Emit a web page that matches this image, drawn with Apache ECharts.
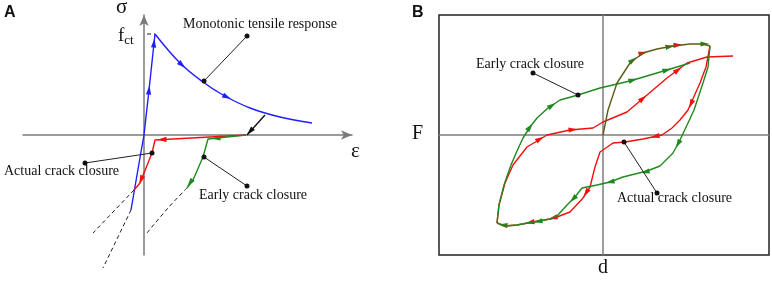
<!DOCTYPE html>
<html>
<head>
<meta charset="utf-8">
<script src="https://cdn.jsdelivr.net/npm/echarts@6/dist/echarts.min.js"></script>
<style>
  html, body { margin: 0; padding: 0; background: #fff; }
  #chart { width: 772px; height: 281px; }
</style>
</head>
<body>
<div id="chart"></div>
<script>
// Panel A: stress-strain schematic (units: strain / stress, origin at axes crossing)
const blueRise = [[-13,-75],[-7,-40],[-3,-17],[0,0],[5,45],[11,101]];
const blueSoften = [[11,101],[36,72],[59,53],[79,40],[106,27],[136,18],[168,12]];
const blueDashed = [[-13,-75],[-41,-133]];
const redCurveA = [[102,0],[11,-5],[8,-18],[-4,-48],[-10,-55]];
const redDashedA = [[-10,-55],[-51,-98]];
const greenCurveA = [[102,0],[64,-4],[59,-22],[49,-45],[43,-53]];
const greenDashedA = [[43,-53],[24,-73],[3,-98]];
const fctLevel = [[3,101],[11,101]];
const pointerA = [[121,20],[103,0]];
// arrows: [x, y, dirX, dirY]
const blueArrows = [[5,45,1,9],[10,92,1,10],[38,70,21,-19],[83,38,27,-13]];
const redArrowsA = [[18,-4.6,-91,-5],[-3,-45,-12,-30]];
const greenArrowsA = [[72,-3.3,-38,-4],[46,-48,-6,-8]];
const blackArrowsA = [[106,3.5,-18,-20]];
const notesA = [
  [[103,99],[60,54]],
  [[-59,-28],[8,-18]],
  [[60,-22],[103,-51]]
];

// Panel B: force-displacement hysteresis
const sharedArc = [[0,0],[5,25],[14,52],[27,72],[40,82],[54,86],[70,89],[87,91],[100,91],[107,89]];
const greenDown = [[107,89],[105,68],[100,52],[91,25],[85,12],[77,-5],[70,-18],[57,-31],[44,-36],[20,-42],[7,-47],[-6,-50],[-21,-53],[-28,-62],[-36,-70],[-46,-81],[-53,-84],[-70,-87],[-86,-90],[-98,-91],[-106,-88]];
const greenUp = [[-106,-88],[-104,-70],[-99,-50],[-92,-30],[-86,-16],[-80,-3],[-73,8],[-66,17],[-55,27],[-43,35],[-25,40],[-3,47],[27,54],[64,65],[87,72]];
const redDown = [[107,89],[103,68],[97,52],[85,25],[77,15],[69,7],[59,0],[40,-4],[22,-7],[10,-8],[-3,-17],[-8,-32],[-13,-52],[-20,-63],[-33,-77],[-46,-82],[-53,-84],[-70,-87],[-86,-90],[-98,-91],[-106,-88]];
const redUp = [[-106,-88],[-104,-70],[-98,-48],[-90,-30],[-76,-12],[-56,0],[-33,5],[-10,7],[0,13],[24,23],[44,40],[64,57],[84,72],[104,78],[130,79]];
const redArrowsB = [[40,82,14,4],[75,90,12,1],[40,36.6,20,17],[75,65,20,15],[-63,-4,20,12],[-30,5.4,23,2],
  [88,31,-12,-27],[52,-1.5,-19,-4],[-17,-58,-7,-11],[-50,-83,-7,-2],[-73,-87.5,-16,-3]];
const greenArrowsB = [[30,75,13,10],[67,88.5,16,3],[102,91,5,0],[-73,8,7,9],[-51,29.5,12,8],[30,55,37,11],[64,65,23,7],
  [75,-9,-7,-13],[42,-37,-24,-6],[7,-47,-13,-3],[-30,-64,-8,-8],[-65,-86.5,-17,-3],[-100,-90,-8,1]];
const notesB = [
  [[-70,62],[-25,40]],
  [[21,-7],[54,-58]]
];

const BLUE = '#1f1fff';
const RED = '#f01010';
const GREEN = '#208a20';
const OLIVE = '#5b5d14';
const SERIF = 'Liberation Serif';

function curve(data, color, idx, dashed, smooth) {
  return {
    type: 'line', data: data, xAxisIndex: idx, yAxisIndex: idx,
    showSymbol: false, clip: false, silent: true, smooth: smooth || false,
    lineStyle: { color: dashed ? '#222' : color, width: dashed ? 1 : 1.4, type: dashed ? [4, 3] : 'solid' }
  };
}

function note(data, idx) {
  return {
    type: 'line', data: data, xAxisIndex: idx, yAxisIndex: idx,
    symbol: 'circle', symbolSize: 5, showSymbol: true, clip: false, silent: true,
    itemStyle: { color: '#111' },
    lineStyle: { color: '#222', width: 1 }
  };
}

function arrows(data, color, idx) {
  return {
    type: 'custom', data: data, xAxisIndex: idx, yAxisIndex: idx, clip: false, silent: true,
    renderItem: function (params, api) {
      const p = api.coord([api.value(0), api.value(1)]);
      const q = api.coord([api.value(0) + api.value(2), api.value(1) + api.value(3)]);
      let dx = q[0] - p[0], dy = q[1] - p[1];
      const n = Math.hypot(dx, dy) || 1;
      dx /= n; dy /= n;
      const L = 4.5, W = 2.6;
      const tip = [p[0] + dx * L, p[1] + dy * L];
      const b = [p[0] - dx * L, p[1] - dy * L];
      return {
        type: 'polygon',
        shape: { points: [tip, [b[0] - dy * W, b[1] + dx * W], [b[0] + dy * W, b[1] - dx * W]] },
        style: { fill: color }
      };
    }
  };
}

function axis(idx, min, max, color, arrow) {
  return {
    gridIndex: idx, type: 'value', min: min, max: max,
    axisLine: {
      onZero: true,
      symbol: arrow ? ['none', 'arrow'] : 'none',
      symbolSize: [7, 11],
      lineStyle: { color: color, width: 1.5 }
    },
    axisTick: { show: false }, axisLabel: { show: false }, splitLine: { show: false }
  };
}

function label(text, x, y, size, extra) {
  return {
    type: 'text', left: x, top: y,
    style: Object.assign({ text: text, font: size + 'px "' + SERIF + '"', fill: '#111' }, extra || {})
  };
}

const chart = echarts.init(document.getElementById('chart'));

chart.setOption({
  animation: false,
  backgroundColor: '#fff',
  grid: [
    { left: 23, top: 15, width: 329, height: 240 },
    { left: 439, top: 15, width: 330, height: 240, show: true, borderColor: '#222', borderWidth: 1.5 }
  ],
  xAxis: [axis(0, -121, 208, '#7a7a7a', true), axis(1, -164, 166, '#7d7d7d', false)],
  yAxis: [axis(0, -120, 120, '#7a7a7a', true), axis(1, -120, 120, '#7d7d7d', false)],
  series: [
    curve(blueDashed, null, 0, true),
    curve(redDashedA, null, 0, true),
    curve(greenDashedA, null, 0, true, 0.4),
    curve(fctLevel, null, 0, true),
    curve(blueRise, BLUE, 0),
    curve(blueSoften, BLUE, 0, false, 0.4),
    curve(redCurveA, RED, 0),
    curve(greenCurveA, GREEN, 0),
    note(notesA[0], 0), note(notesA[1], 0), note(notesA[2], 0),
    curve(pointerA, '#111', 0),
    arrows(blueArrows, BLUE, 0),
    arrows(redArrowsA, RED, 0),
    arrows(greenArrowsA, GREEN, 0),
    arrows(blackArrowsA, '#111', 0),

    curve(redDown, RED, 1),
    curve(redUp, RED, 1),
    curve(greenDown, GREEN, 1),
    curve(greenUp, GREEN, 1),
    curve(sharedArc, OLIVE, 1),
    note(notesB[0], 1), note(notesB[1], 1),
    arrows(redArrowsB, RED, 1),
    arrows(greenArrowsB, GREEN, 1)
  ],
  graphic: [
    { type: 'text', left: 4, top: 5, style: { text: 'A', font: 'bold 16px "Liberation Sans"', fill: '#111' } },
    { type: 'text', left: 412, top: 5, style: { text: 'B', font: 'bold 16px "Liberation Sans"', fill: '#111' } },
    label('σ', 116, -3, 21),
    label('ε', 351, 141, 21),
    { type: 'text', left: 118, top: 27, style: {
      text: '{f|f}{s|ct}', fill: '#111',
      rich: { f: { font: '19px "' + SERIF + '"', fill: '#111' }, s: { font: '13px "' + SERIF + '"', fill: '#111', padding: [8, 0, 0, 0] } }
    } },
    label('Monotonic tensile response', 183, 17, 14),
    label('Actual crack closure', 4, 164, 14),
    label('Early crack closure', 199, 188, 14),
    label('F', 412, 124, 20),
    label('d', 598, 258, 20),
    label('Early crack closure', 476, 57, 14),
    label('Actual crack closure', 617, 191, 14)
  ]
});
</script>
</body>
</html>
